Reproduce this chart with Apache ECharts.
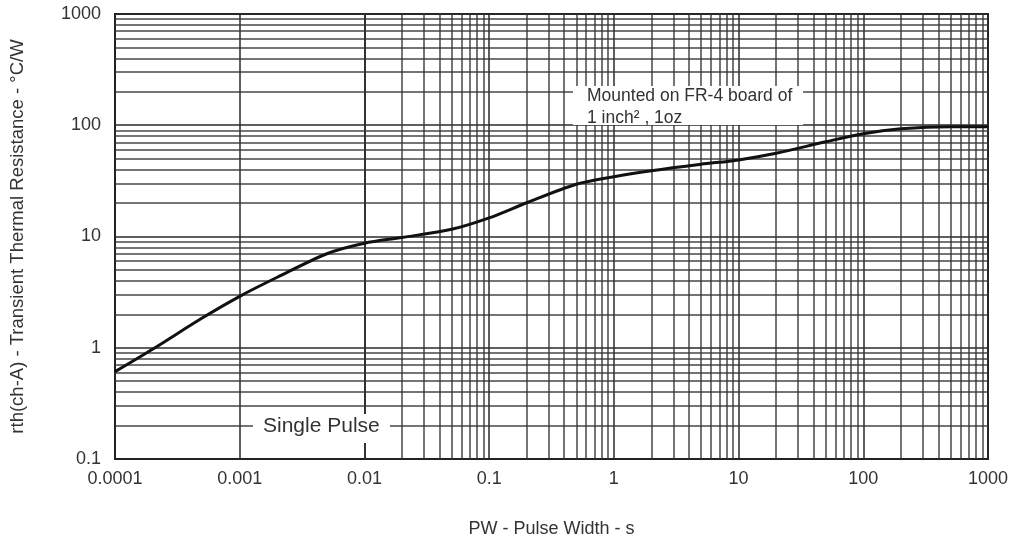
<!DOCTYPE html>
<html>
<head>
<meta charset="utf-8">
<script src="https://cdn.jsdelivr.net/npm/echarts@6/dist/echarts.min.js"></script>
<style>
  html, body { margin: 0; padding: 0; background: #fff; }
  #main { width: 1014px; height: 538px; }
</style>
</head>
<body>
<div id="main"></div>
<script>
var myChart = echarts.init(document.getElementById('main'));

// pulse width (s) and transient thermal resistance (°C/W)
var pulseWidth = [0.0001, 0.0002, 0.0005, 0.001, 0.002, 0.005, 0.01, 0.02, 0.05, 0.1, 0.2, 0.5, 1, 2, 5, 10, 20, 50, 100, 200, 500, 1000];
var thermalRes = [0.61, 0.97, 1.85, 2.9, 4.3, 7.0, 8.7, 9.8, 11.6, 14.7, 20.1, 29.5, 34.5, 39, 44.6, 48.8, 56, 71, 84, 92.8, 97, 97];

// tick labels
var xTicks = [0.0001, 0.001, 0.01, 0.1, 1, 10, 100, 1000];
var xTickLabels = ['0.0001', '0.001', '0.01', '0.1', '1', '10', '100', '1000'];
var yTicks = [0.1, 1, 10, 100, 1000];
var yTickLabels = ['0.1', '1', '10', '100', '1000'];

var FONT = '"Liberation Sans", Arial, sans-serif';

function labelFor(ticks, labels) {
    return function (v) {
        for (var i = 0; i < ticks.length; i++) {
            if (Math.abs(Math.log10(ticks[i]) - Math.log10(v)) < 1e-6) return labels[i];
        }
        return '';
    };
}

// minor grid lines 2..9 in every decade
function minorLines(ticks, key) {
    var res = [];
    for (var i = 0; i < ticks.length - 1; i++) {
        for (var k = 2; k <= 9; k++) {
            var o = {};
            o[key] = k * ticks[i];
            res.push(o);
        }
    }
    return res;
}

var curve = pulseWidth.map(function (x, i) { return [x, thermalRes[i]]; });

option = {
    backgroundColor: '#fff',
    animation: false,
    grid: {
        left: 115, right: 26, top: 14, bottom: 79,
        containLabel: false,
        outerBoundsMode: 'none',
        show: true,
        borderColor: '#222',
        borderWidth: 2
    },
    xAxis: {
        type: 'log',
        logBase: 10,
        min: 0.0001,
        max: 1000,
        interval: 1,
        splitNumber: 7,
        name: 'PW - Pulse Width - s',
        nameLocation: 'middle',
        nameGap: 61,
        nameTextStyle: { color: '#333', fontSize: 18, fontFamily: FONT },
        axisLine: { show: true, lineStyle: { color: '#222', width: 2 } },
        axisTick: { show: false },
        axisLabel: {
            color: '#333', fontSize: 18, fontFamily: FONT, margin: 11,
            formatter: labelFor(xTicks, xTickLabels)
        },
        splitLine: { show: true, lineStyle: { color: '#2a2a2a', width: 1.5 } }
    },
    yAxis: {
        type: 'log',
        logBase: 10,
        min: 0.1,
        max: 1000,
        interval: 1,
        splitNumber: 4,
        name: 'rth(ch-A) - Transient Thermal Resistance - °C/W',
        nameLocation: 'middle',
        nameGap: 88,
        nameTextStyle: { color: '#333', fontSize: 18.5, fontFamily: FONT },
        axisLine: { show: true, lineStyle: { color: '#222', width: 2 } },
        axisTick: { show: false },
        axisLabel: {
            color: '#333', fontSize: 18, fontFamily: FONT, margin: 14,
            formatter: labelFor(yTicks, yTickLabels)
        },
        splitLine: { show: true, lineStyle: { color: '#2a2a2a', width: 1.5 } }
    },
    series: [
        {
            type: 'line',
            data: [],
            z: 1,
            silent: true,
            markLine: {
                silent: true,
                symbol: ['none', 'none'],
                label: { show: false },
                lineStyle: { color: '#333', width: 1.5, type: 'solid', opacity: 0.9 },
                emphasis: { disabled: true },
                data: minorLines(xTicks, 'xAxis').concat(minorLines(yTicks, 'yAxis'))
            }
        },
        {
            name: 'Single Pulse',
            type: 'line',
            data: curve,
            smooth: 0.3,
            showSymbol: false,
            z: 5,
            lineStyle: { color: '#111', width: 3 }
        }
    ],
    graphic: [
        {
            type: 'rect', z: 100,
            shape: { x: 573, y: 86, width: 230, height: 39 },
            style: { fill: '#fff' }
        },
        {
            type: 'text', z: 101, left: 587, top: 85,
            style: {
                text: 'Mounted on FR-4 board of\n1 inch² , 1oz',
                fill: '#333', font: '17.5px ' + FONT, lineHeight: 22
            }
        },
        {
            type: 'rect', z: 100,
            shape: { x: 253, y: 414, width: 137, height: 29 },
            style: { fill: '#fff' }
        },
        {
            type: 'text', z: 101, left: 263, top: 416,
            style: { text: 'Single Pulse', fill: '#333', font: '21px ' + FONT }
        }
    ]
};

myChart.setOption(option);
</script>
</body>
</html>
